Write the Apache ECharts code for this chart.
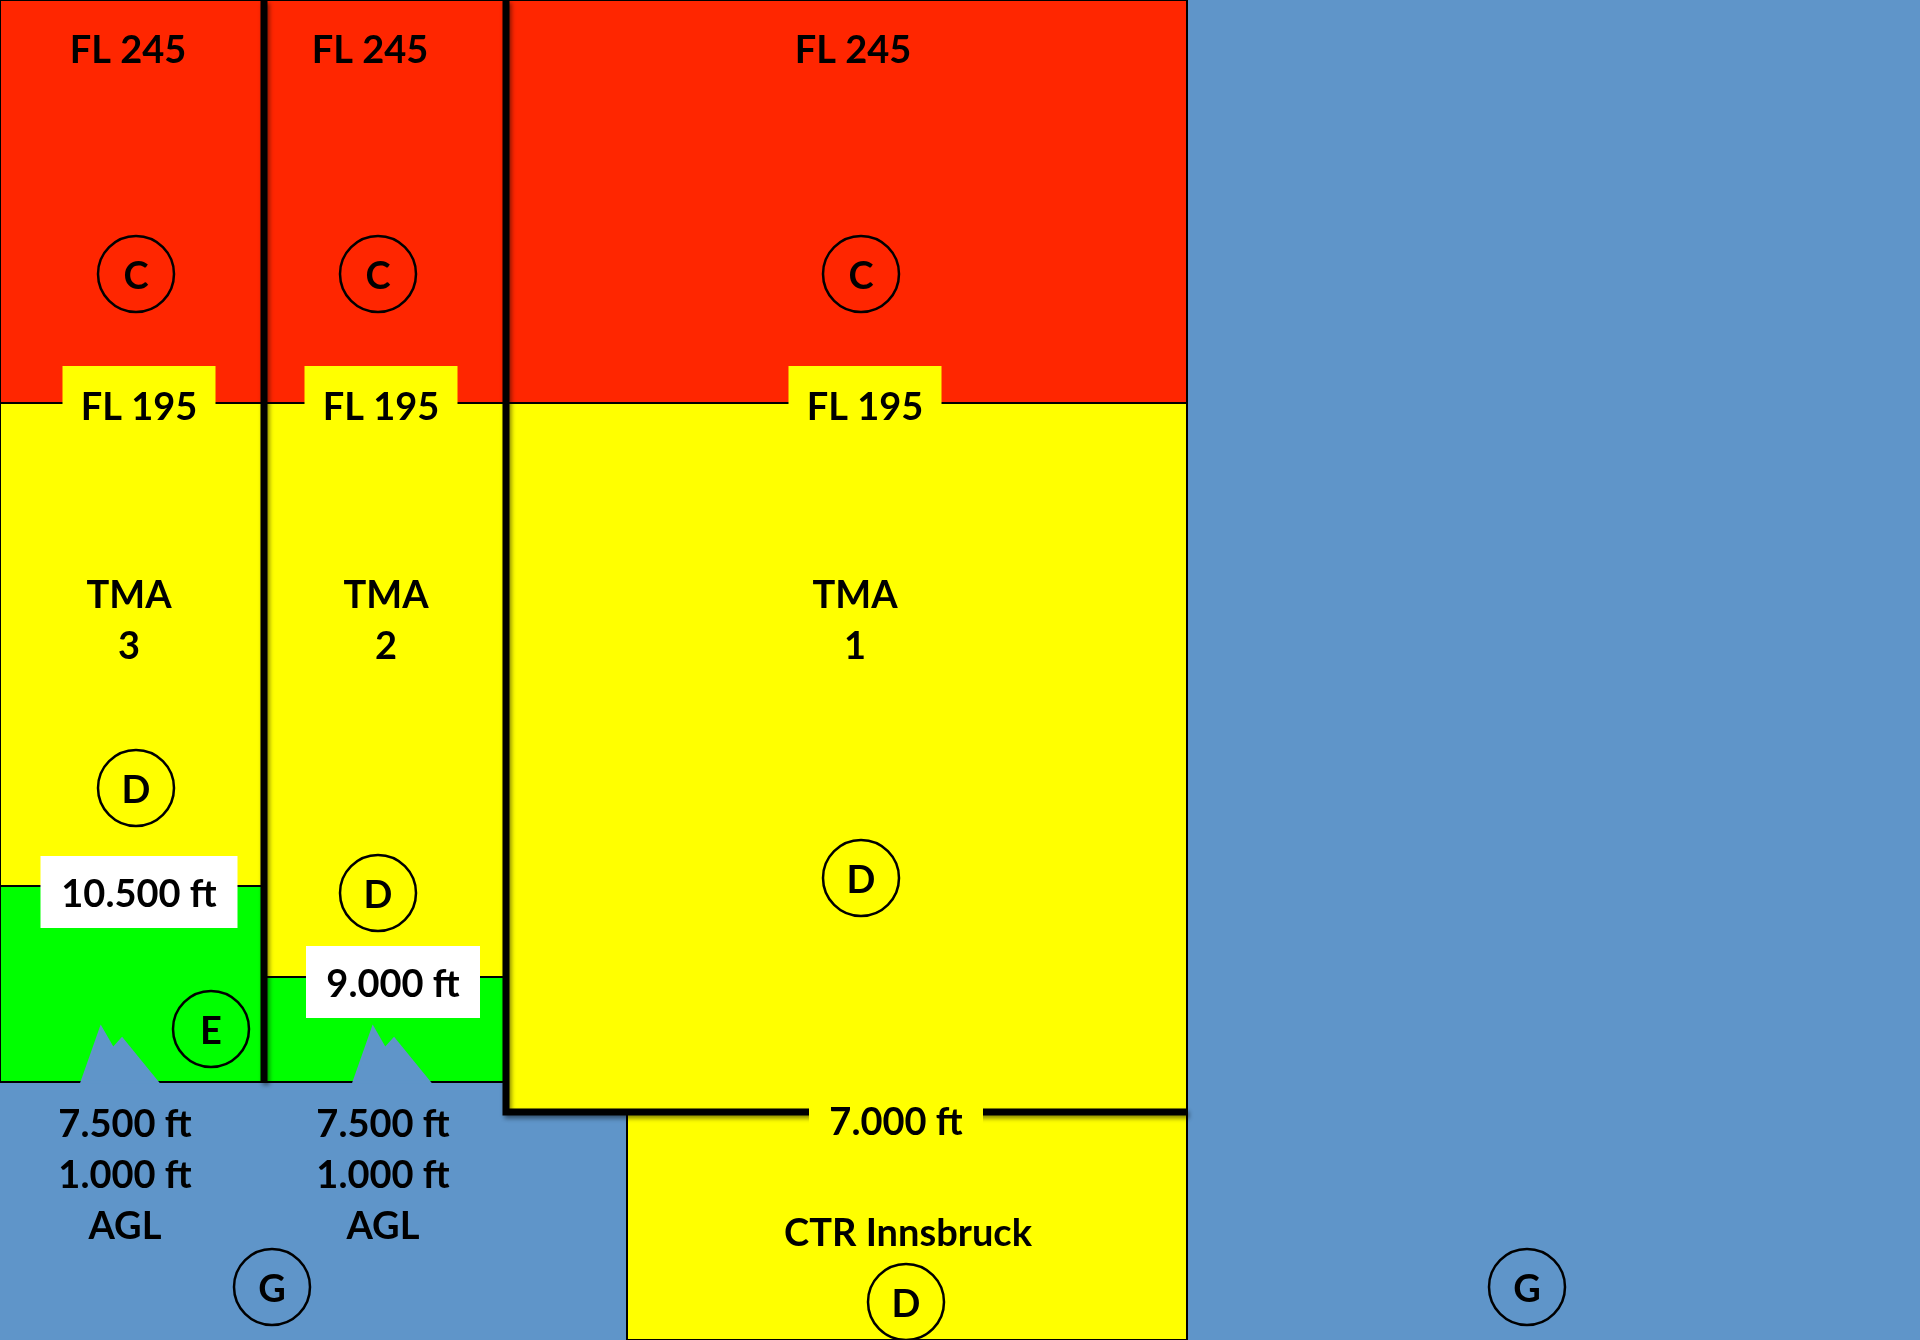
<!DOCTYPE html>
<html>
<head>
<meta charset="utf-8">
<script src="https://cdn.jsdelivr.net/npm/echarts@6/dist/echarts.min.js"></script>
<style>
html, body { margin: 0; padding: 0; background: #5F95C9; }
#chart { width: 1920px; height: 1340px; }
</style>
</head>
<body>
<div id="chart"></div>
<script>
// schematic chart: x = lateral extent, y = schematic height (0 = bottom of the picture)
var levelNames = ['FL 245', 'FL 195', '10.500 ft', '9.000 ft', '7.500 ft', '7.000 ft', 'GND'];
var levelHeights = [1340, 937, 454, 363, 258, 228, 0];

var sectorNames = ['TMA 3', 'TMA 2', 'TMA 1', 'CTR Innsbruck', 'G'];
var sectorWest = [0, 264, 506, 627, 0];
var sectorEast = [264, 506, 1187, 1187, 1920];

// airspace blocks
var blockSector = [4, 0, 1, 2, 0, 1, 2, 0, 1, 3];
var blockLower = [0, 937, 937, 937, 454, 363, 228, 258, 258, 0];
var blockUpper = [1340, 1340, 1340, 1340, 937, 937, 937, 454, 363, 228];
var blockClass = ['G', 'C', 'C', 'C', 'D', 'D', 'D', 'E', 'E', 'D'];

// class markers
var markX = [136, 378, 861, 136, 378, 861, 211, 906, 272, 1527];
var markY = [1066, 1066, 1066, 552, 447, 462, 311, 38, 53, 53];
var markClass = ['C', 'C', 'C', 'D', 'D', 'D', 'E', 'D', 'G', 'G'];

// terrain (mountains) below TMA 3 and TMA 2
var terrainX = [[82, 101, 113, 122, 157], [354, 373, 385, 394, 429]];
var terrainY = [258, 312, 291, 301, 258];

// text labels
var labelText = ['FL 245', 'FL 245', 'FL 245', 'FL 195', 'FL 195', 'FL 195',
  'TMA\n3', 'TMA\n2', 'TMA\n1', '10.500 ft', '9.000 ft', '7.000 ft',
  '7.500 ft\n1.000 ft\nAGL', '7.500 ft\n1.000 ft\nAGL', 'CTR Innsbruck'];
var labelX = [128, 370, 853, 139, 381, 865, 129, 386, 855, 139, 393, 896, 125, 383, 908];
var labelY = [1292, 1292, 1292, 935, 935, 935, 722, 722, 722, 448, 358, 220, 167, 167, 109];
var labelBox = ['', '', '', 'D', 'D', 'D', '', '', '', 'W', 'W', 'D', '', '', ''];

var classColor = { C: '#FF2600', D: '#FFFF00', E: '#00FF00', G: '#5F95C9', W: '#FFFFFF' };
var font = 'Lato, "Open Sans", sans-serif';

function boxFor(text) {
  if (text === 'FL 195') return [153, 78];
  if (text === '10.500 ft') return [197, 72];
  if (text === '9.000 ft') return [174, 72];
  return [174, 44];
}

var chart = echarts.init(document.getElementById('chart'));

var option = {
  animation: false,
  backgroundColor: classColor.G,
  grid: { left: 0, right: 0, top: 0, bottom: 0 },
  xAxis: { type: 'value', min: 0, max: 1920, show: false },
  yAxis: { type: 'value', min: 0, max: 1340, show: false },
  series: [
    {
      type: 'custom',
      name: 'airspace',
      z: 1,
      silent: true,
      data: blockSector.map(function (s, i) {
        return [sectorWest[s], blockLower[i], sectorEast[s], blockUpper[i]];
      }),
      encode: { x: [0, 2], y: [1, 3] },
      renderItem: function (params, api) {
        var p0 = api.coord([api.value(0), api.value(3)]);
        var p1 = api.coord([api.value(2), api.value(1)]);
        var cls = blockClass[params.dataIndex];
        return {
          type: 'rect',
          shape: { x: p0[0], y: p0[1], width: p1[0] - p0[0], height: p1[1] - p0[1] },
          style: {
            fill: classColor[cls],
            stroke: cls === 'G' ? null : '#000',
            lineWidth: 2
          }
        };
      }
    },
    {
      type: 'custom',
      name: 'terrain',
      z: 2,
      silent: true,
      data: terrainX.map(function (xs, i) { return [xs[0], terrainY[0], i]; }),
      renderItem: function (params, api) {
        var xs = terrainX[params.dataIndex];
        var pts = xs.map(function (x, k) { return api.coord([x, terrainY[k]]); });
        return {
          type: 'polygon',
          shape: { points: pts },
          style: { fill: classColor.G, stroke: classColor.G, lineWidth: 3 }
        };
      }
    },
    {
      type: 'custom',
      name: 'tma borders',
      z: 3,
      silent: true,
      data: [
        [sectorWest[1], levelHeights[4], sectorWest[1], levelHeights[0]],
        [sectorWest[2], levelHeights[0], sectorWest[2], levelHeights[5]]
      ],
      renderItem: function (params, api) {
        var pts;
        if (params.dataIndex === 0) {
          pts = [api.coord([sectorWest[1], levelHeights[4]]), api.coord([sectorWest[1], levelHeights[0]])];
        } else {
          pts = [api.coord([sectorWest[2], levelHeights[0]]),
                 api.coord([sectorWest[2], levelHeights[5]]),
                 api.coord([sectorEast[2], levelHeights[5]])];
        }
        return {
          type: 'polyline',
          shape: { points: pts },
          style: {
            fill: null, stroke: '#000', lineWidth: 7, lineJoin: 'miter',
            shadowColor: 'rgba(0,0,0,0.45)', shadowBlur: 4, shadowOffsetX: 2, shadowOffsetY: 3
          }
        };
      }
    },
    {
      type: 'custom',
      name: 'labels',
      z: 4,
      silent: true,
      data: labelX.map(function (x, i) { return [x, labelY[i]]; }),
      renderItem: function (params, api) {
        var i = params.dataIndex;
        var p = api.coord([api.value(0), api.value(1)]);
        var children = [];
        var box = labelBox[i];
        if (box) {
          var size = boxFor(labelText[i]);
          children.push({
            type: 'rect',
            shape: { x: p[0] - size[0] / 2, y: p[1] - size[1] / 2, width: size[0], height: size[1] },
            style: { fill: classColor[box] }
          });
        }
        children.push({
          type: 'text',
          style: {
            text: labelText[i], x: p[0], y: p[1] + 3,
            align: 'center', verticalAlign: 'middle',
            fontFamily: font, fontWeight: 'bold', fontSize: 38, lineHeight: 51,
            fill: '#000'
          }
        });
        return { type: 'group', children: children };
      }
    },
    {
      type: 'custom',
      name: 'class',
      z: 5,
      silent: true,
      data: markX.map(function (x, i) { return [x, markY[i]]; }),
      renderItem: function (params, api) {
        var p = api.coord([api.value(0), api.value(1)]);
        return {
          type: 'group',
          children: [
            {
              type: 'circle',
              shape: { cx: p[0], cy: p[1], r: 38 },
              style: { fill: null, stroke: '#000', lineWidth: 2.5 }
            },
            {
              type: 'text',
              style: {
                text: markClass[params.dataIndex], x: p[0], y: p[1] + 3,
                align: 'center', verticalAlign: 'middle',
                fontFamily: font, fontWeight: 'bold', fontSize: 38, fill: '#000'
              }
            }
          ]
        };
      }
    }
  ]
};

chart.setOption(option);
window.addEventListener('resize', function () { chart.resize(); });
</script>
</body>
</html>
